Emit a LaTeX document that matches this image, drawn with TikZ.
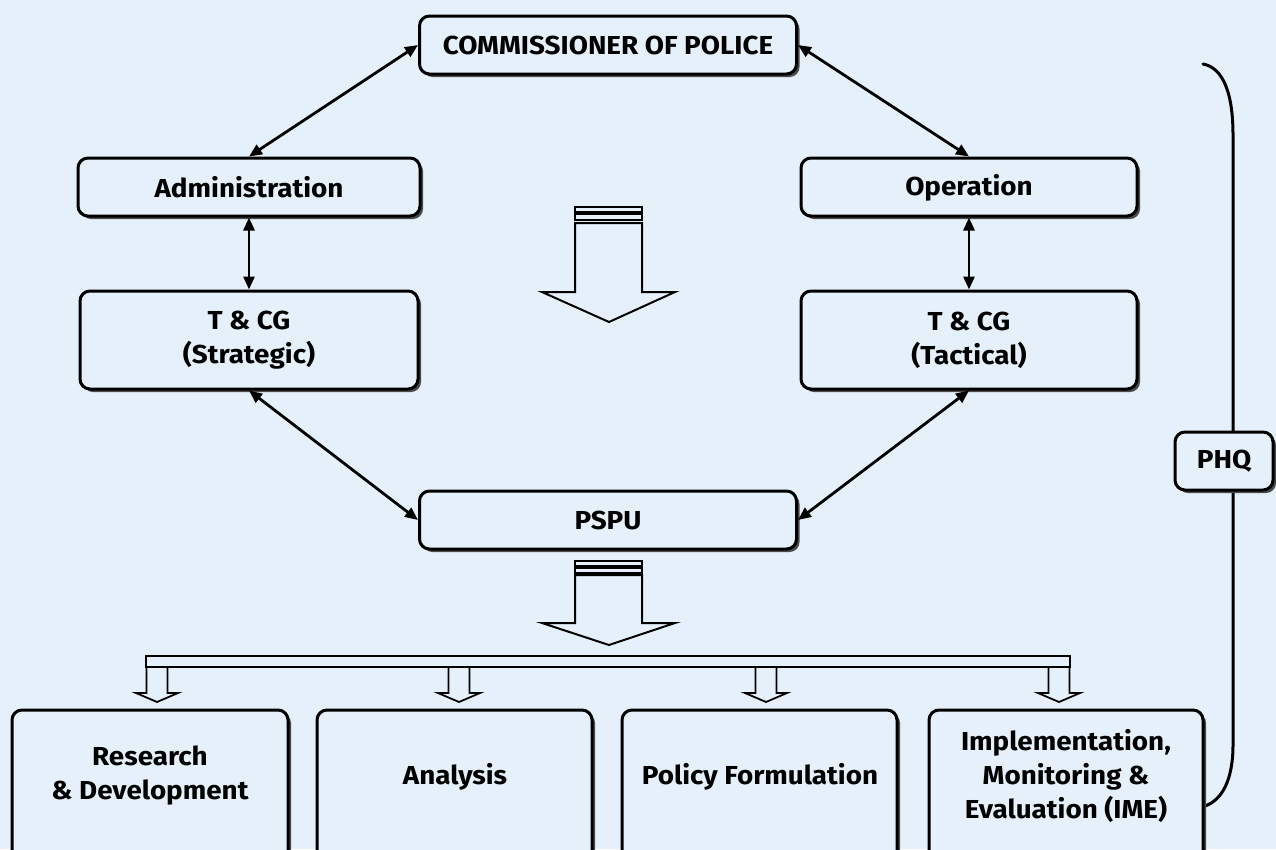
\documentclass[tikz,border=0pt]{standalone}
\usepackage{fontspec}
\setmainfont{Fira Sans}[FakeStretch=1.07]
\usetikzlibrary{arrows.meta,shadows}
\definecolor{bg}{HTML}{E5F0FB}
\definecolor{shad}{HTML}{4A4A4A}
\tikzset{
  frame/.style={draw=black, line width=3pt, rounded corners=10pt, fill=bg,
    drop shadow={shadow xshift=3pt, shadow yshift=-3pt, fill=shad, opacity=1}},
  box/.style={frame, align=center, font=\bfseries\fontsize{26}{34}\selectfont, inner sep=0pt},
  label/.style={align=center, font=\bfseries\fontsize{26}{34}\selectfont, inner sep=0pt},
  link/.style={line width=2.8pt, {Triangle[length=13pt,width=11pt]}-{Triangle[length=13pt,width=11pt]}},
  blockarrow/.style={draw=black, line width=2pt, fill=bg, line join=miter},
}
\begin{document}
\begin{tikzpicture}[x=1pt,y=-1pt]
\useasboundingbox (0,0) rectangle (1276,849);
\clip (0,0) rectangle (1276,849);
\fill[bg] (0,0) rectangle (1276,849);
% bracket
\draw[line width=3pt, line cap=round] (1203,64) .. controls (1224,68) and (1233,95) .. (1233,135) -- (1233,745) .. controls (1233,780) and (1222,800) .. (1205,806);
% nodes
\node[box, minimum width=377pt, minimum height=58pt] (cp) at (608,45) {COMMISSIONER OF POLICE};
\node[box, minimum width=342pt, minimum height=58pt] (adm) at (249,187) {Administration};
\node[box, minimum width=336pt, minimum height=58pt, text height=19pt, text depth=3pt] (op) at (969,187) {Operation};
\node[box, minimum width=338pt, minimum height=98pt] (str) at (249,340) {T \& CG\\(Strategic)};
\node[box, minimum width=336pt, minimum height=98pt] (tac) at (969,340) {T \& CG\\(Tactical)};
\node[box, minimum width=377pt, minimum height=58pt] (pspu) at (608,520) {PSPU};
\node[box, minimum width=98pt, minimum height=58pt] (phq) at (1224,461) {PHQ};
% bottom boxes (extend past the lower edge)
\draw[frame] (12,710) rectangle (288,880);
\draw[frame] (317,710) rectangle (592,880);
\draw[frame] (622,710) rectangle (897,880);
\draw[frame] (929,710) rectangle (1203,880);
\node[label] (rd) at (150,776) {Research\\\& Development};
\node[label] (an) at (455,777) {Analysis};
\node[label] (pf) at (760,777) {Policy Formulation};
\node[label] (ime) at (1066,776) {Implementation,\\Monitoring \&\\Evaluation (IME)};
% connectors
\draw[link] (cp.west) -- (adm.north);
\draw[link] (cp.east) -- (op.north);
\draw[link] (adm.south) -- (str.north);
\draw[link] (op.south) -- (tac.north);
\draw[link] (str.south) -- (pspu.west);
\draw[link] (tac.south) -- (pspu.east);
% block arrow 1
\draw[line width=1.6pt, fill=bg] (575,207) rectangle (642,212);
\draw[line width=1.6pt, fill=bg] (575,214) rectangle (642,220);
\draw[blockarrow] (575,223) -- (575,292) -- (542,292) -- (609,322) -- (675,292) -- (642,292) -- (642,223) -- cycle;
% block arrow 2
\draw[line width=1.6pt, fill=bg] (575,561) rectangle (642,566);
\draw[line width=1.6pt, fill=bg] (575,568) rectangle (642,573);
\draw[blockarrow] (575,575) -- (575,623) -- (542,623) -- (609,645) -- (675,623) -- (642,623) -- (642,575) -- cycle;
% bar
\draw[line width=2pt, fill=bg] (146,656) rectangle (1070,667);
\foreach \cx in {157,459,766,1059}{
  \draw[blockarrow, line width=1.8pt] (\cx-10.5,668) -- (\cx-10.5,693) -- (\cx-21,693) -- (\cx,702) -- (\cx+21,693) -- (\cx+10.5,693) -- (\cx+10.5,668);
}
\end{tikzpicture}
\end{document}
